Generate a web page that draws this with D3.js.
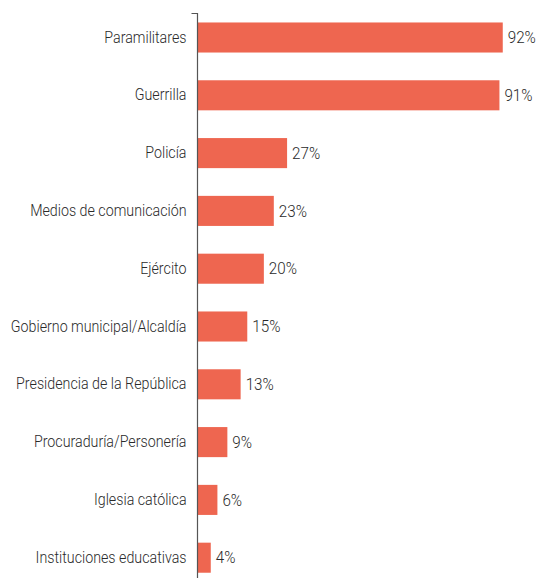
<!DOCTYPE html>
<html>
<head>
<meta charset="utf-8">
<script src="https://cdn.jsdelivr.net/npm/d3@7"></script>
<style>
  body { margin: 0; background: #fff; }
  svg text { font-family: "Roboto", "Liberation Sans", sans-serif; font-weight: 300; fill: #2a2a2a; }
</style>
</head>
<body>
<svg id="chart" width="538" height="578"></svg>
<script>
const categories = [
    "Paramilitares",
    "Guerrilla",
    "Policía",
    "Medios de comunicación",
    "Ejército",
    "Gobierno municipal/Alcaldía",
    "Presidencia de la República",
    "Procuraduría/Personería",
    "Iglesia católica",
    "Instituciones educativas"
];
const values = [92, 91, 27, 23, 20, 15, 13, 9, 6, 4];

const svg = d3.select("#chart");
const x0 = 197.5;

const x = d3.scaleLinear().domain([0, 100]).range([x0, x0 + 331.8]);
const y = d3.scaleBand()
    .domain(categories)
    .range([8.6, 586.6])
    .paddingInner(0.48)
    .paddingOuter(0.24);

const data = categories.map((c, i) => ({ cat: c, val: values[i] }));

// squeeze text a bit to look condensed like the original
const condense = (sel, k) => sel.each(function() {
    const w = this.getComputedTextLength();
    d3.select(this).attr("textLength", w * k).attr("lengthAdjust", "spacingAndGlyphs");
});

// bars
svg.append("g")
    .selectAll("rect")
    .data(data)
    .enter()
    .append("rect")
    .attr("x", x(0))
    .attr("y", d => y(d.cat))
    .attr("width", d => x(d.val) - x(0))
    .attr("height", y.bandwidth())
    .attr("fill", "#ee6650");

// value labels
svg.append("g")
    .selectAll("text")
    .data(data)
    .enter()
    .append("text")
    .attr("x", d => x(d.val) + 5)
    .attr("y", d => y(d.cat) + y.bandwidth() / 2)
    .attr("dy", "0.35em")
    .style("font-size", "16px")
    .text(d => d.val + "%")
    .call(condense, 0.95);

// category axis
const axis = svg.append("g")
    .attr("transform", `translate(${x0},0)`)
    .call(d3.axisLeft(y).tickSize(0).tickPadding(11));
axis.select(".domain").remove();
axis.selectAll("text")
    .attr("fill", null)
    .style("font-size", "16px")
    .call(condense, 0.89);

// axis line with small top tick
svg.append("path")
    .attr("d", `M${x0 - 6},13.5H${x0}V578`)
    .attr("fill", "none")
    .attr("stroke", "#555")
    .attr("stroke-width", 1.2);
</script>
</body>
</html>
